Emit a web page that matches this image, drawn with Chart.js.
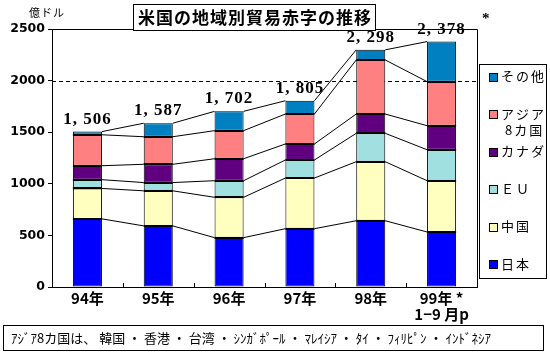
<!DOCTYPE html>
<html><head><meta charset="utf-8">
<script src="https://cdn.jsdelivr.net/npm/chart.js@4"></script>
<style>html,body{margin:0;padding:0;background:#fff;overflow:hidden}#wrap{position:absolute;left:0;top:0;width:550px;height:353px}</style>
</head><body><div id="wrap"><canvas id="c" width="550" height="353"></canvas></div>
<script>
const categories = ['94年','95年','96年','97年','98年',['99年 *','1−9 月p']];
const japan  = [660,592,478,565,642,533];
const china  = [295,340,391,491,572,497];
const eu     = [85,80,161,175,275,300];
const canada = [135,177,213,155,187,233];
const asia8  = [300,267,272,290,524,427];
const other  = [31,131,187,129,98,388];
const totalLabels = ['1, 506','1, 587','1, 702','1, 805','2, 298','2, 378'];
const totalNotes = ['','','','','','*'];
const yTicks = [0,500,1000,1500,2000,2500];
const seriesNames = ['日本','中国','ＥＵ','カナダ',['アジア','8カ国'],'その他'];
const seriesColors = ['#0000FF','#FFFFC0','#A0E0E0','#600080','#FF8080','#0080C0'];
const refLine = 2000;
const titleText = '米国の地域別貿易赤字の推移';
const unitText = '億ドル';
const footnoteText = 'ｱｼﾞｱ8カ国は、 韓国 ・ 香港 ・ 台湾 ・ ｼﾝｶﾞﾎﾟｰﾙ ・ ﾏﾚｲｼｱ ・ ﾀｲ ・ ﾌｨﾘﾋﾟﾝ ・ ｲﾝﾄﾞﾈｼｱ';

const seriesData = [japan, china, eu, canada, asia8, other];
const JP = '"Noto Sans CJK JP", sans-serif';

const deco = {
  id: 'deco',
  beforeDatasetsDraw(chart) {
    const ctx = chart.ctx, a = chart.chartArea, y = chart.scales.y;
    ctx.save();
    ctx.strokeStyle = '#000'; ctx.lineWidth = 1;
    ctx.setLineDash([4,3]);
    const py = Math.round(y.getPixelForValue(refLine)) + 0.5;
    ctx.beginPath(); ctx.moveTo(a.left, py); ctx.lineTo(a.right, py); ctx.stroke();
    ctx.setLineDash([]);
    ctx.beginPath();
    ctx.moveTo(a.left, a.top + 0.5); ctx.lineTo(Math.round(a.right) + 0.5, a.top + 0.5);
    ctx.lineTo(Math.round(a.right) + 0.5, a.bottom);
    ctx.stroke();
    const n = categories.length, w = (a.right - a.left) / n;
    for (let k = 1; k < n; k++) {
      const px = Math.round(a.left + k * w) + 0.5;
      ctx.beginPath(); ctx.moveTo(px, a.bottom); ctx.lineTo(px, a.bottom - 4); ctx.stroke();
    }
    ctx.restore();
  },
  afterDatasetsDraw(chart) {
    const ctx = chart.ctx;
    ctx.save();
    ctx.strokeStyle = '#000';
    // thick separators at each inner segment top
    ctx.lineWidth = 2;
    for (let d = 0; d < seriesData.length - 1; d++) {
      const bars = chart.getDatasetMeta(d).data;
      for (let i = 0; i < bars.length; i++) {
        const b = bars[i].getProps(['x','y','width'], true);
        const yy = Math.round(b.y);
        ctx.beginPath();
        ctx.moveTo(b.x - b.width/2, yy); ctx.lineTo(b.x + b.width/2, yy);
        ctx.stroke();
      }
    }
    ctx.lineWidth = 1;
    for (let d = 0; d < seriesData.length; d++) {
      const bars = chart.getDatasetMeta(d).data;
      for (let i = 0; i < bars.length - 1; i++) {
        const b1 = bars[i].getProps(['x','y','width'], true);
        const b2 = bars[i+1].getProps(['x','y','width'], true);
        ctx.beginPath();
        ctx.moveTo(b1.x + b1.width/2, b1.y);
        ctx.lineTo(b2.x - b2.width/2, b2.y);
        ctx.stroke();
      }
    }
    const top = chart.getDatasetMeta(seriesData.length - 1).data;
    ctx.fillStyle = '#000';
    ctx.textAlign = 'center'; ctx.textBaseline = 'alphabetic';
    for (let i = 0; i < top.length; i++) {
      const b = top[i].getProps(['x','y'], true);
      ctx.font = 'bold 17px "Liberation Serif", serif';
      ctx.letterSpacing = '1px';
      ctx.fillText(totalLabels[i], b.x, b.y - 8);
      if (totalNotes[i]) {
        const tw = ctx.measureText(totalLabels[i]).width;
        ctx.letterSpacing = '0px';
        ctx.font = 'bold 15px "Liberation Serif", serif';
        ctx.fillText(totalNotes[i], b.x + tw/2 + 20, b.y - 19);
      }
    }
    ctx.letterSpacing = '0px';
    ctx.restore();
  },
  afterDraw(chart) {
    const ctx = chart.ctx;
    ctx.save();
    ctx.strokeStyle = '#000'; ctx.lineWidth = 1;
    ctx.fillStyle = '#fff';
    ctx.fillRect(133.5, 4.5, 242, 26);
    ctx.strokeRect(133.5, 4.5, 242, 26);
    ctx.fillStyle = '#000';
    ctx.font = 'bold 17px ' + JP;
    ctx.letterSpacing = '1px';
    ctx.textAlign = 'center'; ctx.textBaseline = 'middle';
    ctx.fillText(titleText, 255, 18);
    ctx.font = '11px ' + JP;
    ctx.textAlign = 'left';
    ctx.fillText(unitText, 29, 13);
    ctx.strokeRect(479.5, 64.5, 67, 214);
    ctx.font = '13px ' + JP;
    ctx.letterSpacing = '2px';
    for (let i = 0; i < seriesNames.length; i++) {
      const ry = 264 - i * 37.5;
      ctx.fillStyle = seriesColors[i];
      ctx.fillRect(489.5, Math.round(ry) - 3.5, 8, 8);
      ctx.strokeRect(489.5, Math.round(ry) - 3.5, 8, 8);
      ctx.fillStyle = '#000';
      const nm = seriesNames[i];
      if (Array.isArray(nm)) {
        ctx.fillText(nm[0], 501, ry);
        ctx.fillText(nm[1], 505, ry + 16);
      } else {
        ctx.fillText(nm, 501, ry);
      }
    }
    ctx.strokeRect(3.5, 325.5, 540, 25);
    ctx.font = '13px ' + JP;
    ctx.letterSpacing = '0px';
    ctx.fillText(footnoteText, 11, 338);
    ctx.restore();
  }
};

new Chart(document.getElementById('c'), {
  type: 'bar',
  data: {
    labels: categories,
    datasets: seriesData.map((d, i) => ({
      label: Array.isArray(seriesNames[i]) ? seriesNames[i].join('') : seriesNames[i],
      data: d,
      backgroundColor: seriesColors[i],
      borderColor: '#000',
      borderWidth: 1,
      borderSkipped: false,
      barPercentage: 0.41,
      categoryPercentage: 1
    }))
  },
  options: {
    responsive: false, animation: false, devicePixelRatio: 1,
    layout: { padding: { top: 29, right: 73, left: 0, bottom: 0 } },
    plugins: { legend: { display: false }, tooltip: { enabled: false }, title: { display: false } },
    scales: {
      x: {
        stacked: true,
        grid: { display: false, drawTicks: false },
        border: { display: true, color: '#000', width: 1 },
        ticks: { color: '#000', padding: 3, maxRotation: 0, autoSkip: false,
          font: { family: JP, size: 15, weight: 'bold', lineHeight: 1.1 } },
        afterFit(s) { s.height = 66; }
      },
      y: {
        stacked: true, min: 0, max: 2500,
        afterBuildTicks(s) { s.ticks = yTicks.map(v => ({ value: v })); },
        grid: { drawOnChartArea: false, drawTicks: true, tickLength: 4, color: '#000' },
        border: { display: true, color: '#000', width: 1 },
        ticks: { color: '#000', padding: 3, callback: v => String(v),
          font: { family: '"DejaVu Sans"', size: 12.5, weight: 'bold' } },
        afterFit(s) { s.width = 52; }
      }
    }
  },
  plugins: [deco]
});
</script>
</body></html>
